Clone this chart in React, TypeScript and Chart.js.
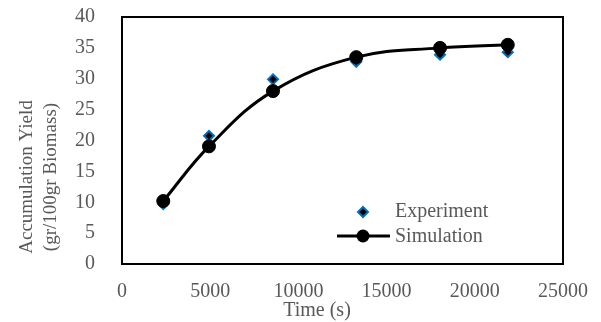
import React, { useEffect, useRef } from "react";
import { Chart, registerables } from "chart.js";
Chart.register(...registerables);

const times = [2340, 4930, 8560, 13280, 18030, 21870];
const experiment = [9.7, 20.75, 29.9, 32.75, 33.9, 34.3];
const simulation = [10.2, 19.05, 28.0, 33.5, 35.0, 35.5];
const seriesNames = ["Experiment", "Simulation"];
const xTitle = "Time (s)";
const yTitleLines = ["Accumulation Yield", "(gr/100gr Biomass)"];
const xMin = 0, xMax = 25000, xStep = 5000;
const yMin = 0, yMax = 40, yStep = 5;

const TEXT = "#595959";
const FONT = "'Liberation Serif', 'Times New Roman', serif";
const BLUE = "#0070C0";

const decorPlugin = {
  id: "decor",
  beforeDatasetsDraw(chart: any) {
    const { ctx, chartArea } = chart;
    ctx.save();
    ctx.strokeStyle = "#000";
    ctx.lineWidth = 2;
    ctx.strokeRect(chartArea.left, chartArea.top, chartArea.right - chartArea.left, chartArea.bottom - chartArea.top);
    ctx.restore();
  },
  afterDraw(chart: any) {
    const { ctx } = chart;
    ctx.save();
    ctx.fillStyle = TEXT;
    // x title
    ctx.font = `20px ${FONT}`;
    ctx.textAlign = "center";
    ctx.textBaseline = "middle";
    ctx.fillText(xTitle, 317, 311);
    // y title
    ctx.save();
    ctx.translate(39, 177);
    ctx.rotate(-Math.PI / 2);
    ctx.font = `19px ${FONT}`;
    ctx.fillText(yTitleLines[0], 0, -12);
    ctx.fillText(yTitleLines[1], 0, 12);
    ctx.restore();
    // legend
    ctx.font = `20px ${FONT}`;
    ctx.textAlign = "left";
    ctx.fillStyle = TEXT;
    ctx.fillText(seriesNames[0], 395, 212);
    ctx.fillText(seriesNames[1], 395, 237);
    // experiment marker
    const ex = 363, ey = 212, r = 5;
    ctx.beginPath();
    ctx.moveTo(ex - r, ey);
    ctx.lineTo(ex, ey - r);
    ctx.lineTo(ex + r, ey);
    ctx.lineTo(ex, ey + r);
    ctx.closePath();
    ctx.fillStyle = "#000";
    ctx.fill();
    ctx.strokeStyle = BLUE;
    ctx.lineWidth = 2;
    ctx.stroke();
    // simulation marker
    ctx.beginPath();
    ctx.moveTo(337, 236);
    ctx.lineTo(390, 236);
    ctx.strokeStyle = "#000";
    ctx.lineWidth = 3;
    ctx.stroke();
    ctx.beginPath();
    ctx.arc(363, 236, 6.5, 0, Math.PI * 2);
    ctx.fillStyle = "#000";
    ctx.fill();
    ctx.restore();
  },
};

export default function App() {
  const ref = useRef<HTMLCanvasElement | null>(null);
  useEffect(() => {
    document.body.style.margin = "0";
    const canvas = ref.current!;
    const chart = new Chart(canvas, {
      type: "scatter",
      data: {
        datasets: [
          {
            label: seriesNames[1],
            data: times.map((t, i) => ({ x: t, y: simulation[i] })),
            showLine: true,
            tension: 0.4,
            borderColor: "#000",
            borderWidth: 3,
            backgroundColor: "#000",
            pointStyle: "circle",
            pointRadius: 6.5,
            pointBorderWidth: 1,
            pointBorderColor: "#000",
            pointBackgroundColor: "#000",
            order: 0,
          },
          {
            label: seriesNames[0],
            data: times.map((t, i) => ({ x: t, y: experiment[i] })),
            showLine: false,
            pointStyle: "rectRot",
            pointRadius: 5,
            pointBorderWidth: 2,
            pointBorderColor: BLUE,
            pointBackgroundColor: "#000",
            order: 1,
          },
        ],
      },
      options: {
        responsive: false,
        animation: false,
        devicePixelRatio: 1,
        layout: { padding: { left: 0, top: 17, right: 38, bottom: 0 } },
        plugins: { legend: { display: false }, tooltip: { enabled: false } },
        scales: {
          x: {
            type: "linear",
            min: xMin,
            max: xMax,
            grid: { display: false },
            border: { display: false },
            ticks: {
              stepSize: xStep,
              color: TEXT,
              font: { family: FONT, size: 20 },
              padding: 8,
              maxRotation: 0,
              callback: (v: any) => String(v),
            },
            afterFit: (s: any) => {
              s.height = 58;
              s.paddingLeft = 0;
              s.paddingRight = 0;
            },
          },
          y: {
            type: "linear",
            min: yMin,
            max: yMax,
            grid: { display: false },
            border: { display: false },
            ticks: {
              stepSize: yStep,
              color: TEXT,
              font: { family: FONT, size: 20 },
              padding: 19,
              callback: (v: any) => String(v),
            },
            afterFit: (s: any) => {
              s.width = 122;
              s.paddingTop = 0;
              s.paddingBottom = 0;
            },
          },
        },
      },
      plugins: [decorPlugin],
    });
    return () => chart.destroy();
  }, []);
  return (
    <div style={{ position: "fixed", left: 0, top: 0, width: 601, height: 322, background: "#fff" }}>
      <canvas ref={ref} width={601} height={322} />
    </div>
  );
}
